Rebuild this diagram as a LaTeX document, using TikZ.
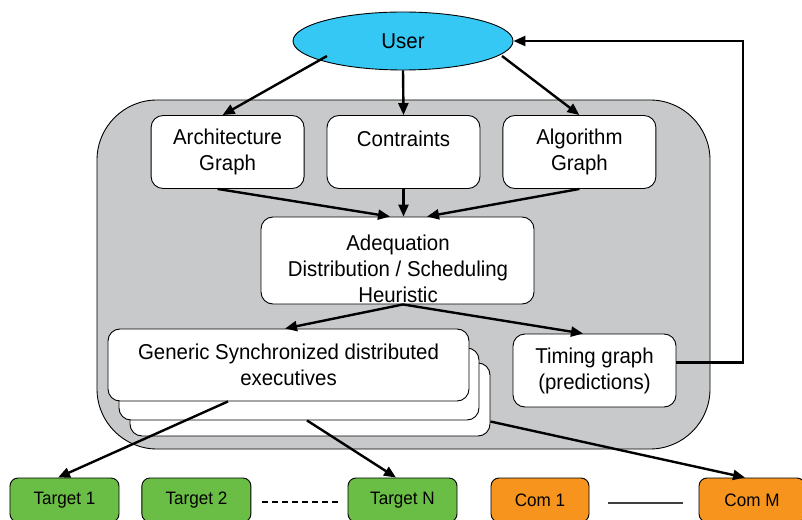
\documentclass[tikz,border=0pt]{standalone}
\usepackage{fontspec}
\setmainfont{Liberation Sans}[FakeStretch=0.95]
\usetikzlibrary{arrows.meta,positioning,calc,shapes.geometric}
\definecolor{usercyan}{RGB}{53,200,244}
\definecolor{coregrey}{RGB}{200,201,203}
\definecolor{tgtgreen}{RGB}{107,190,69}
\definecolor{comorange}{RGB}{247,148,29}

\tikzset{
  box/.style={draw, fill=white, rounded corners=12bp, line width=0.9bp, align=center,
    minimum width=153bp, minimum height=73bp, inner sep=0pt, font=\fontsize{21.5bp}{26bp}\selectfont},
  tgt/.style={draw, fill=tgtgreen, rounded corners=8bp, line width=0.9bp,
    minimum width=109bp, minimum height=44bp, inner sep=0pt, font=\fontsize{18bp}{20bp}\selectfont},
  com/.style={tgt, fill=comorange, minimum width=98bp},
  flow/.style={->, line width=2.4bp}
}

\begin{document}
\begin{tikzpicture}[x=1bp, y=-1bp, >={Triangle[length=12bp,width=10bp]}, node distance=22bp and 22bp]
\useasboundingbox (0,0) rectangle (802,520);
  % Define nodes
  \node (user) [ellipse, draw, fill=usercyan, line width=0.9bp, minimum width=220bp, minimum height=58bp,
    inner sep=0pt, font=\fontsize{21.5bp}{26bp}\selectfont] at (403,41) {User};
  \node (core) [draw, fill=coregrey, rounded corners=60bp, line width=0.9bp,
    minimum width=613bp, minimum height=349bp] at (403.5,274.5) {};

  \node (contr) [box] at (403.5,152) {Contraints\\\mbox{}};
  \node (arch) [box, left=of contr] {Architecture\\Graph};
  \node (algo) [box, right=of contr] {Algorithm\\Graph};

  \node (adeq) [box, minimum width=273bp, minimum height=87bp] at (397.5,260.5) {};
  \node (adeqtxt) [align=center, font=\fontsize{21.5bp}{26bp}\selectfont] at (398,269)
    {Adequation\\Distribution / Scheduling\\Heuristic};

  \node (gen3) [box, minimum width=360bp] at (310,399.5) {};
  \node (gen2) [box, minimum width=360bp, minimum height=72bp] at (299,384) {};
  \node (gen) [box, minimum width=361bp, minimum height=72bp] at (288.5,365)
    {Generic Synchronized distributed\\executives};
  \node (timing) [box, minimum width=163bp] at (594.5,370.5) {Timing graph\\(predictions)};

  \node (tgt1) [tgt] at (64.5,500) {Target 1};
  \node (tgt2) [tgt, right=of tgt1] {Target 2};
  \node (tgtN) [tgt] at (402.5,500) {Target N};
  \node (com1) [com] at (540,500) {Com 1};
  \node (comM) [com, minimum width=106bp] at (752,500) {Com M};
  \coordinate (fb) at (743,41);

  % Draw arrows
  \draw[flow] ($(user)+(-76,15)$) -- ([xshift=-5bp]arch.north);
  \draw[flow] (user.south) -- (contr.north);
  \draw[flow] ($(user)+(99,15)$) -- (algo.north);
  \draw[flow] ([xshift=-10bp]arch.south) -- ([xshift=-7.5bp]adeq.north);
  \draw[flow] (contr.south) -- (contr.south |- adeq.north);
  \draw[flow] (algo.south) -- ([xshift=29.5bp]adeq.north);
  \draw[flow] ([xshift=5.5bp]adeq.south) -- ([xshift=-3.5bp]gen.north);
  \draw[flow] ([xshift=5.5bp]adeq.south) -- ([xshift=-11.5bp]timing.north);
  \draw[flow] ([yshift=8bp]timing.east) -| (fb) -- (user.east);
  \draw[flow] ([xshift=-60.5bp]gen.south) -- ([xshift=-6.5bp]tgt1.north);
  \draw[flow] ([xshift=8bp]gen2.south) -- ([xshift=-6.5bp]tgtN.north);
  \draw[flow] ($(gen3.east)+(0,22)$) -- ([xshift=-7bp]comM.north);

  % Links between targets
  \draw[line width=1.1bp, dash pattern=on 6bp off 4bp] ($(tgt2.east)+(11,2)$) -- ($(tgtN.west)+(-10,2)$);
  \draw[line width=1.5bp, black!75] ($(com1.east)+(19,3)$) -- ($(comM.west)+(-16,3)$);
\end{tikzpicture}
\end{document}
